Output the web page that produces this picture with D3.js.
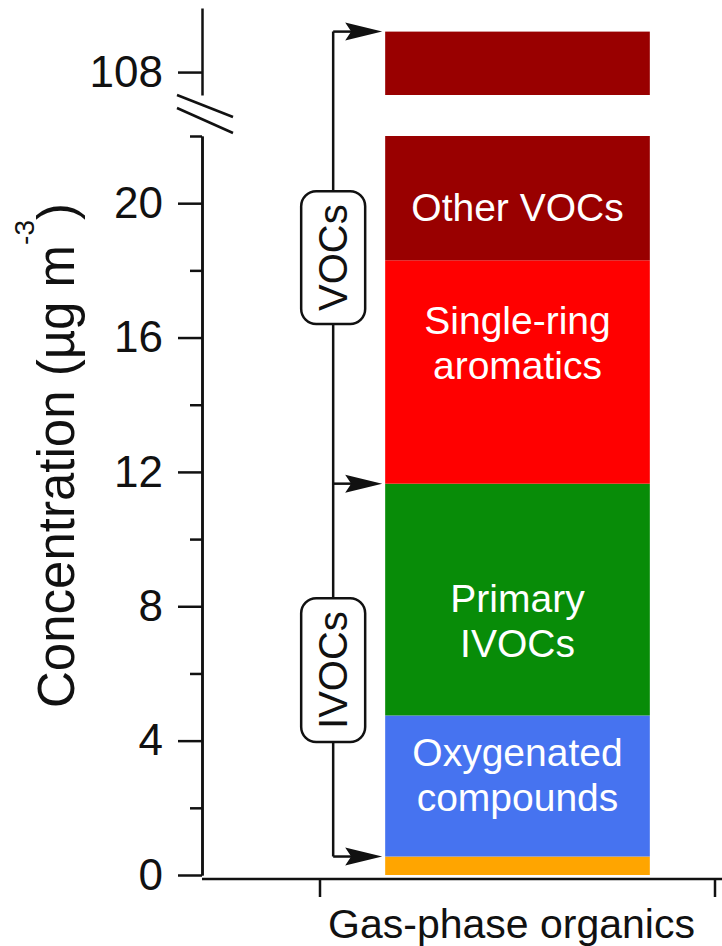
<!DOCTYPE html>
<html>
<head>
<meta charset="utf-8">
<script src="https://cdn.jsdelivr.net/npm/d3@7"></script>
<style>
body { margin: 0; background: #fff; }
text { font-family: "Liberation Sans", Arial, Helvetica, sans-serif; }
</style>
</head>
<body>
<div id="chart"></div>
<script>
// data (µg m-3)
var categories = ["Gas-phase organics"];
var components = ["Other organics", "Oxygenated compounds", "Primary IVOCs", "Single-ring aromatics", "Other VOCs"];
var componentLabels = [[], ["Oxygenated", "compounds"], ["Primary", "IVOCs"], ["Single-ring", "aromatics"], ["Other VOCs"]];
var values = [0.55, 4.2, 6.9, 6.65, 90.9];
var colors = ["#ffa500", "#4673f0", "#088c08", "#ff0000", "#990000"];
var lowerTicks = [0, 4, 8, 12, 16, 20];
var lowerMinorTicks = [2, 6, 10, 14, 18, 22];
var upperTicks = [108];
var groupNames = ["IVOCs", "VOCs"];
var groupFrom = [0, 2];   // bracket starts at top of this component
var groupTo = [2, 4];     // and ends at top of this one

var width = 722, height = 946;
var axisX = 202;

var svg = d3.select("#chart").append("svg")
    .attr("width", width)
    .attr("height", height);

// broken y axis: two linear pieces
var yLow = d3.scaleLinear().domain([0, 22]).range([875, 136]);
var yHigh = d3.scaleLinear().domain([107.32, 109.9]).range([95, 8]);

var x = d3.scaleBand()
    .domain(categories)
    .range([320, 715])
    .paddingInner(0.33)
    .paddingOuter(0.165);

// stack the components
var row = { category: categories[0] };
components.forEach(function (c, i) { row[c] = values[i]; });
var series = d3.stack().keys(components)([row]);

// bars (lower and upper pieces)
var bars = svg.append("g").classed("bars", true);
series.forEach(function (s, i) {
    var d = s[0];
    var lo = yLow.domain(), hi = yHigh.domain();
    if (d[0] < lo[1]) {
        bars.append("rect")
            .attr("x", x(d.data.category))
            .attr("width", x.bandwidth())
            .attr("y", yLow(Math.min(d[1], lo[1])))
            .attr("height", yLow(d[0]) - yLow(Math.min(d[1], lo[1])))
            .attr("fill", colors[i]);
    }
    if (d[1] > hi[0]) {
        bars.append("rect")
            .attr("x", x(d.data.category))
            .attr("width", x.bandwidth())
            .attr("y", yHigh(d[1]))
            .attr("height", yHigh(Math.max(d[0], hi[0])) - yHigh(d[1]))
            .attr("fill", colors[i]);
    }
});

// labels inside the bar
var labelAt = [null, 3.0, 7.59, 15.86, 19.9];
var lineGap = 45;
var cx = x(categories[0]) + x.bandwidth() / 2;
componentLabels.forEach(function (lines, i) {
    if (!lines.length) return;
    var base = yLow(labelAt[i]) + 14 - (lines.length - 1) * lineGap / 2;
    lines.forEach(function (s, j) {
        svg.append("text")
            .attr("x", cx)
            .attr("y", base + j * lineGap)
            .attr("text-anchor", "middle")
            .attr("font-size", 39)
            .attr("fill", "#fff")
            .text(s);
    });
});

// y axes
function styleAxis(g) {
    g.selectAll("path, line").attr("stroke", "#111").attr("stroke-width", 2.5);
    g.selectAll("text").attr("font-size", 44).attr("fill", "#111")
        .attr("font-family", "'Liberation Sans', Arial, sans-serif");
}
svg.append("g")
    .attr("transform", "translate(" + axisX + ",0)")
    .call(d3.axisLeft(yLow).tickValues(lowerTicks).tickSize(24).tickSizeOuter(0).tickPadding(15))
    .call(styleAxis);
svg.append("g")
    .attr("transform", "translate(" + axisX + ",0)")
    .call(d3.axisLeft(yLow).tickValues(lowerMinorTicks).tickSize(12).tickSizeOuter(0).tickFormat(""))
    .call(styleAxis);
svg.append("g")
    .attr("transform", "translate(" + axisX + ",0)")
    .call(d3.axisLeft(yHigh).tickValues(upperTicks).tickFormat(d3.format("d"))
        .tickSize(24).tickSizeOuter(0).tickPadding(15))
    .call(styleAxis);

// break marks
[[95, 117], [108, 133]].forEach(function (b) {
    svg.append("line")
        .attr("x1", axisX - 25).attr("y1", b[0])
        .attr("x2", axisX + 31).attr("y2", b[1])
        .attr("stroke", "#111").attr("stroke-width", 2.5);
});

// y title
var title = svg.append("text")
    .attr("transform", "translate(74,708) rotate(-90)")
    .attr("font-size", 51)
    .attr("fill", "#111");
title.append("tspan").text("Concentration (µg m");
title.append("tspan").attr("font-size", 28).attr("dy", -40).text("-3");
title.append("tspan").attr("dy", 40).text(")");

// x axis
var xg = svg.append("g")
    .attr("transform", "translate(0,879)")
    .call(d3.axisBottom(x).tickSize(0).tickPadding(30));
xg.select(".domain").remove();
xg.selectAll("text").attr("font-size", 41).attr("fill", "#111").attr("dx", -6)
    .attr("font-family", "'Liberation Sans', Arial, sans-serif");
xg.append("line")
    .attr("x1", axisX).attr("x2", width)
    .attr("stroke", "#111").attr("stroke-width", 2.5);
x.range().forEach(function (v) {
    xg.append("line")
        .attr("x1", v).attr("x2", v)
        .attr("y1", 0).attr("y2", 18)
        .attr("stroke", "#111").attr("stroke-width", 2.5);
});

// VOCs / IVOCs brackets
var tops = series.map(function (s) { return s[0][1]; });
function yAny(v) { return v <= yLow.domain()[1] ? yLow(v) : yHigh(v); }
var tipX = x(categories[0]) - 3;
var lineX = tipX - 49;
var br = svg.append("g").classed("brackets", true);

br.append("line")
    .attr("x1", lineX).attr("x2", lineX)
    .attr("y1", yAny(tops[tops.length - 1]))
    .attr("y2", yAny(tops[0]))
    .attr("stroke", "#111").attr("stroke-width", 2.5);

var arrowAt = d3.union(groupFrom, groupTo);
arrowAt.forEach(function (k) {
    var yy = yAny(tops[k]);
    br.append("line")
        .attr("x1", lineX).attr("x2", tipX - 30)
        .attr("y1", yy).attr("y2", yy)
        .attr("stroke", "#111").attr("stroke-width", 2.5);
    br.append("path")
        .attr("d", "M" + tipX + "," + yy +
            "L" + (tipX - 37) + "," + (yy - 9) +
            "L" + (tipX - 31) + "," + yy +
            "L" + (tipX - 37) + "," + (yy + 9) + "Z")
        .attr("fill", "#111");
});

groupNames.forEach(function (name, i) {
    var yMid = (yAny(tops[groupFrom[i]]) + yAny(tops[groupTo[i]])) / 2;
    var t = br.append("text")
        .attr("transform", "translate(" + (lineX + 14) + "," + yMid + ") rotate(-90)")
        .attr("text-anchor", "middle")
        .attr("font-size", 40)
        .attr("fill", "#111")
        .text(name);
    var len = t.node().getComputedTextLength();
    br.insert("rect", "text")
        .attr("x", lineX - 32)
        .attr("y", yMid - len / 2 - 13)
        .attr("width", 64)
        .attr("height", len + 26)
        .attr("rx", 15)
        .attr("fill", "#fff")
        .attr("stroke", "#111")
        .attr("stroke-width", 2.5);
});
</script>
</body>
</html>
